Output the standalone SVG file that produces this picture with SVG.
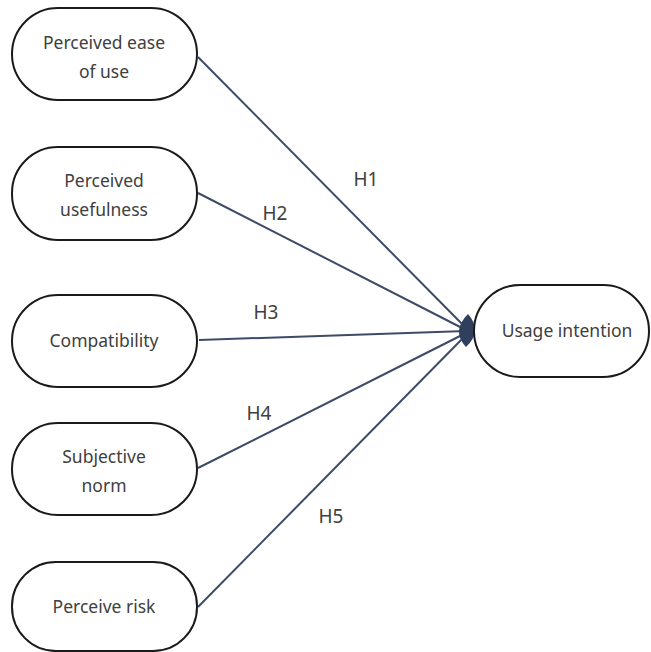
<svg xmlns="http://www.w3.org/2000/svg" width="651" height="652" viewBox="0 0 651 652">
<style>
.node rect{fill:#fff;stroke:#1a1a1a;stroke-width:2}
.node text{font-family:"Noto Sans","Open Sans",sans-serif;font-size:17.5px;fill:#404040;text-anchor:middle}
.conn line{stroke:#3d4a68;stroke-width:2}
.lbl{font-family:"Noto Sans","Open Sans",sans-serif;font-size:19px;fill:#404040;text-anchor:middle}
</style>
<rect width="651" height="652" fill="#fff"/>
<g id="connectors" class="conn">
<line x1="198" y1="57" x2="466" y2="328"/>
<line x1="198" y1="193" x2="466" y2="330"/>
<line x1="199" y1="340" x2="466" y2="331"/>
<line x1="198" y1="468" x2="466" y2="333"/>
<line x1="198" y1="607" x2="466" y2="335"/>
<path d="M468,314 Q483,331 466,347 Q451,331 468,314 Z" fill="#2f3f5e"/>
<text class="lbl" x="366" y="186">H1</text>
<text class="lbl" x="275" y="220">H2</text>
<text class="lbl" x="266" y="319">H3</text>
<text class="lbl" x="259" y="420">H4</text>
<text class="lbl" x="331" y="523">H5</text>
</g>
<g id="n1" class="node"><rect x="12" y="8" width="185" height="92" rx="46"/><text x="104" y="49">Perceived ease</text><text x="104" y="78">of use</text></g>
<g id="n2" class="node"><rect x="12" y="147" width="185" height="93" rx="46"/><text x="104" y="187">Perceived</text><text x="104" y="216">usefulness</text></g>
<g id="n3" class="node"><rect x="12" y="295" width="185" height="92" rx="46"/><text x="104" y="347">Compatibility</text></g>
<g id="n4" class="node"><rect x="12" y="423" width="185" height="92" rx="46"/><text x="104" y="463">Subjective</text><text x="104" y="492">norm</text></g>
<g id="n5" class="node"><rect x="12" y="562" width="185" height="89" rx="44"/><text x="104" y="613">Perceive risk</text></g>
<g id="n6" class="node"><rect x="474" y="285" width="175" height="92" rx="46"/><text x="567" y="337">Usage intention</text></g>
</svg>
